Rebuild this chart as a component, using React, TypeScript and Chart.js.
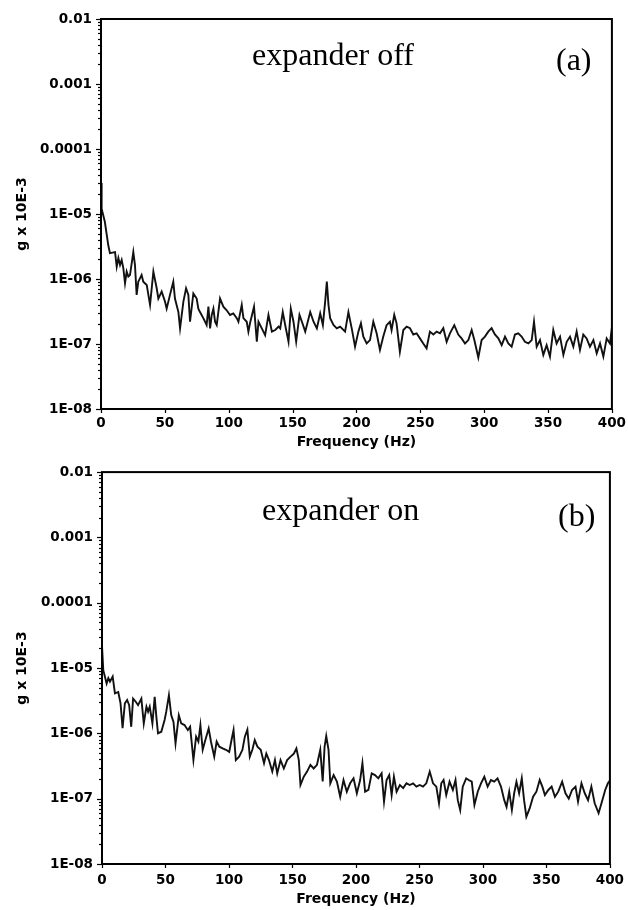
import React, { useEffect, useRef } from "react";
import { Chart, registerables } from "chart.js";
Chart.register(...registerables);

// ---- data ----
const xTickValues = [0, 50, 100, 150, 200, 250, 300, 350, 400];
const yDecades = [-8, -7, -6, -5, -4, -3, -2];
const yDecadeLabels = ["1E-08", "1E-07", "1E-06", "1E-05", "0.0001", "0.001", "0.01"];
const xTitle = "Frequency (Hz)";
const yTitle = "g x 10E-3";
const captionA = "expander off";
const captionB = "expander on";
const tagA = "(a)";
const tagB = "(b)";

// [frequency Hz, amplitude]
const seriesOff: [number, number][] = [
  [0, 3.0e-5], [0.5, 1.2e-5], [3, 7.6e-6], [5.7, 3.3e-6], [7, 2.5e-6], [11, 2.6e-6], [12.3, 1.55e-6],
  [13.6, 2.1e-6], [14.9, 1.64e-6], [16.2, 1.96e-6], [17.5, 1.46e-6], [18.8, 8.6e-7], [20.1, 1.3e-6],
  [21.4, 1.09e-6], [22.7, 1.15e-6], [25.3, 2.6e-6], [26.6, 1.64e-6], [27.9, 5.7e-7], [29.2, 9.1e-7],
  [31.8, 1.15e-6], [33.1, 9.1e-7], [35.8, 8.1e-7], [38.4, 4.0e-7], [41, 1.3e-6], [43.6, 7.2e-7],
  [44.9, 5.0e-7], [47.5, 6.4e-7], [50.1, 4.5e-7], [51.4, 3.5e-7], [54, 5.7e-7], [56.6, 9.1e-7],
  [57.9, 5.0e-7], [60.6, 3.1e-7], [61.9, 1.74e-7], [64.5, 4.5e-7], [66.6, 7.2e-7], [68.4, 5.7e-7],
  [69.7, 2.2e-7], [72.3, 6.0e-7], [74.9, 5.0e-7], [76.2, 3.5e-7], [77.5, 3.1e-7], [80.1, 2.5e-7],
  [82.7, 1.96e-7], [84.1, 3.75e-7], [85.4, 1.74e-7], [86.7, 2.8e-7], [88, 3.5e-7], [89.3, 2.2e-7],
  [90.6, 1.96e-7], [93.2, 5.0e-7], [95.8, 3.75e-7], [98.4, 3.3e-7], [101, 2.8e-7], [103.6, 2.96e-7],
  [106.3, 2.5e-7], [107.6, 2.2e-7], [110.2, 4.0e-7], [111.5, 2.5e-7], [114.1, 2.2e-7], [115.4, 1.55e-7],
  [116.7, 2.1e-7], [119.8, 3.75e-7], [122, 1.09e-7], [123.3, 2.2e-7], [125.9, 1.74e-7], [128.5, 1.37e-7],
  [131.1, 2.8e-7], [133.8, 1.55e-7], [136.4, 1.64e-7], [139, 1.85e-7], [140.3, 1.74e-7], [142.3, 3.1e-7],
  [144.2, 1.96e-7], [146.8, 1.09e-7], [148.6, 3.5e-7], [150.7, 2.2e-7], [152.8, 1.09e-7], [155.4, 2.8e-7],
  [157.3, 2.2e-7], [159.9, 1.55e-7], [163.8, 3.1e-7], [166.4, 2.2e-7], [169, 1.74e-7], [171.6, 2.96e-7],
  [173.7, 1.96e-7], [175.5, 4.5e-7], [176.8, 9.1e-7], [178.1, 4.0e-7], [179.4, 2.5e-7], [182, 1.96e-7],
  [184.6, 1.74e-7], [187.2, 1.85e-7], [191.1, 1.55e-7], [193.7, 3.1e-7], [196.3, 1.74e-7], [198.9, 9.1e-8],
  [201.5, 1.55e-7], [203.5, 2.08e-7], [205.4, 1.3e-7], [208, 1.02e-7], [210.6, 1.15e-7], [213.2, 2.2e-7],
  [215.8, 1.46e-7], [218.4, 8.1e-8], [221, 1.3e-7], [223.6, 1.95e-7], [226.2, 2.2e-7], [227.5, 1.64e-7],
  [229.6, 2.8e-7], [231.4, 2.08e-7], [234, 7.6e-8], [236.7, 1.64e-7], [239.3, 1.85e-7], [241.9, 1.75e-7],
  [244.5, 1.4e-7], [247.1, 1.46e-7], [249.7, 1.22e-7], [252.3, 1.02e-7], [254.9, 8.6e-8], [257.5, 1.55e-7],
  [260.2, 1.4e-7], [262.8, 1.55e-7], [265.4, 1.46e-7], [268, 1.75e-7], [270.6, 1.08e-7], [273.2, 1.46e-7],
  [276.6, 1.95e-7], [279.7, 1.4e-7], [282.3, 1.22e-7], [285, 1.02e-7], [287.6, 1.15e-7], [290.2, 1.64e-7],
  [292.3, 1.15e-7], [295.4, 6.2e-8], [298, 1.15e-7], [300.6, 1.3e-7], [303.2, 1.55e-7], [305.8, 1.75e-7],
  [308.4, 1.4e-7], [311.1, 1.22e-7], [313.7, 9.6e-8], [316.3, 1.3e-7], [318.9, 1.02e-7], [321.5, 9.1e-8],
  [324.1, 1.4e-7], [326.7, 1.46e-7], [329.3, 1.3e-7], [331.9, 1.08e-7], [334.6, 1.02e-7], [337.2, 1.15e-7],
  [339, 2.2e-7], [341.1, 9.1e-8], [343.7, 1.15e-7], [346.3, 6.8e-8], [348.9, 9.6e-8], [351.5, 6.4e-8],
  [354.1, 1.64e-7], [356.7, 1.02e-7], [359.4, 1.3e-7], [362, 6.8e-8], [364.6, 1.08e-7], [367.2, 1.3e-7],
  [369.8, 9.1e-8], [372.4, 1.55e-7], [375, 8.1e-8], [377.6, 1.4e-7], [380.2, 1.22e-7], [382.8, 9.1e-8],
  [385.5, 1.15e-7], [388.1, 7.2e-8], [390.7, 1.02e-7], [393.3, 6.4e-8], [395.9, 1.22e-7], [398.5, 1.02e-7],
  [400, 1.8e-7],
];

const seriesOn: [number, number][] = [
  [0, 2.2e-5], [1, 9.3e-6], [3.65, 5.8e-6], [5, 7e-6], [6.3, 6.2e-6], [8.4, 7.4e-6], [10.2, 4.1e-6],
  [12.8, 4.3e-6], [14.6, 2.88e-6], [16.2, 1.2e-6], [18, 2.88e-6], [19.8, 3.24e-6], [21.4, 2.7e-6],
  [23, 1.26e-6], [24.5, 3.4e-6], [26.6, 3.05e-6], [28.4, 2.7e-6], [31, 3.4e-6], [32.9, 1.42e-6],
  [35, 2.56e-6], [36.3, 2.15e-6], [37.6, 2.56e-6], [39.7, 1.42e-6], [41.5, 3.64e-6], [42.8, 1.8e-6],
  [44.1, 1.0e-6], [46.7, 1.06e-6], [49.3, 1.6e-6], [50.6, 2.15e-6], [52.7, 3.85e-6], [54.5, 1.9e-6],
  [56.3, 1.5e-6], [57.9, 7.0e-7], [60.5, 1.9e-6], [62.4, 1.42e-6], [65, 1.34e-6], [67.6, 1.12e-6],
  [69.4, 1.26e-6], [72, 3.9e-7], [74.1, 8.9e-7], [75.9, 7.5e-7], [77.5, 1.34e-6], [79.3, 5.6e-7],
  [81.4, 7.9e-7], [84, 1.19e-6], [85.8, 7.5e-7], [88.4, 4.4e-7], [90.3, 7.5e-7], [92.4, 6.25e-7],
  [95, 5.9e-7], [97.6, 5.6e-7], [100.2, 5.2e-7], [102, 7.9e-7], [103.6, 1.12e-6], [105.4, 3.9e-7],
  [108, 4.4e-7], [110.6, 5.6e-7], [112.5, 8.9e-7], [114.5, 1.14e-6], [116.4, 4.4e-7], [118.4, 5.6e-7],
  [120.3, 7.9e-7], [122.4, 6.25e-7], [125, 5.6e-7], [127.6, 3.5e-7], [129.4, 4.9e-7], [131.5, 3.9e-7],
  [134.1, 2.6e-7], [136.2, 3.9e-7], [138, 2.44e-7], [140.6, 3.9e-7], [143.2, 2.9e-7], [145.8, 3.9e-7],
  [148.5, 4.4e-7], [151.1, 4.9e-7], [153.1, 5.9e-7], [155, 3.9e-7], [156.3, 1.62e-7], [158.9, 2.17e-7],
  [161.5, 2.6e-7], [164.1, 3.3e-7], [166.7, 2.9e-7], [169.3, 3.3e-7], [171.9, 5.6e-7], [173.8, 1.83e-7],
  [175.3, 6.25e-7], [176.6, 9.1e-7], [178.4, 5.6e-7], [179.8, 1.72e-7], [182.4, 2.3e-7], [185, 1.83e-7],
  [187.6, 1.07e-7], [190.2, 1.93e-7], [192.8, 1.28e-7], [195.4, 1.72e-7], [198.1, 2.05e-7], [200.7, 1.21e-7],
  [203.3, 1.93e-7], [205.1, 3.5e-7], [207.2, 1.28e-7], [209.8, 1.36e-7], [212.4, 2.44e-7], [215, 2.3e-7],
  [217.6, 2.05e-7], [220.2, 2.44e-7], [222.1, 9e-8], [224.1, 1.93e-7], [226.2, 2.3e-7], [228.1, 1.14e-7],
  [229.9, 2.17e-7], [232, 1.28e-7], [234.6, 1.62e-7], [237.2, 1.45e-7], [239.8, 1.72e-7], [242.4, 1.62e-7],
  [245, 1.72e-7], [247.6, 1.53e-7], [250.2, 1.62e-7], [252.8, 1.53e-7], [255.4, 1.72e-7], [258.1, 2.6e-7],
  [260.7, 1.72e-7], [263.3, 1.53e-7], [265.4, 8.5e-8], [267.2, 1.72e-7], [269, 1.93e-7], [271.1, 1.14e-7],
  [273.7, 1.82e-7], [276.3, 1.36e-7], [278.4, 1.93e-7], [280.2, 9.5e-8], [282.1, 6.7e-8], [284.1, 1.53e-7],
  [286.8, 2.05e-7], [288.8, 1.93e-7], [291.2, 1.82e-7], [293.3, 8e-8], [295.9, 1.28e-7], [298.5, 1.72e-7],
  [301.1, 2.17e-7], [303.7, 1.53e-7], [306.3, 1.93e-7], [308.9, 1.82e-7], [311.5, 2.05e-7], [314.2, 1.53e-7],
  [316.8, 9.5e-8], [318.6, 7.5e-8], [320.7, 1.28e-7], [322.8, 6.7e-8], [324.6, 1.21e-7], [326.4, 1.82e-7],
  [328.5, 1.21e-7], [330.6, 2.05e-7], [332.4, 9.5e-8], [334.2, 5.3e-8], [336.8, 7.1e-8], [339.5, 1.07e-7],
  [342.1, 1.28e-7], [344.7, 1.93e-7], [346.8, 1.53e-7], [348.8, 1.14e-7], [351.5, 1.36e-7], [354.1, 1.53e-7],
  [356.7, 1.07e-7], [359.3, 1.28e-7], [362.4, 1.82e-7], [365, 1.21e-7], [367.6, 1e-7], [370.2, 1.36e-7],
  [372.9, 1.53e-7], [374.9, 9e-8], [377.6, 1.72e-7], [380.2, 1.21e-7], [382.8, 9.5e-8], [385.4, 1.53e-7],
  [388, 8.5e-8], [391.1, 6e-8], [393.7, 9e-8], [396.3, 1.36e-7], [398.4, 1.72e-7], [400, 1.9e-7],
];

// ---- styling ----
const SANS = '"DejaVu Sans", sans-serif';
const SERIF = '"Liberation Serif", "Times New Roman", serif';
const W = 628;
const H = 455;

type PanelProps = {
  series: [number, number][];
  caption: string;
  tag: string;
  area: { left: number; top: number; right: number; bottom: number };
  captionDx: number;
  captionDy: number;
  tagDx: number;
  tagDy: number;
  xLabelPad: number;
  xTitlePad: number;
};

function Panel(p: PanelProps) {
  const ref = useRef<HTMLCanvasElement | null>(null);
  useEffect(() => {
    if (!ref.current) return;
    const framePlugin = {
      id: "frame",
      afterDraw(chart: any) {
        const { ctx, chartArea: a } = chart;
        const ys = chart.scales.y;
        const xs = chart.scales.x;
        ctx.save();
        ctx.strokeStyle = "#000";
        ctx.lineWidth = 2;
        ctx.strokeRect(a.left, a.top, a.right - a.left, a.bottom - a.top);
        // y ticks (major + minor)
        ctx.lineWidth = 1.2;
        for (const d of yDecades) {
          for (let m = 1; m <= 9; m++) {
            const v = m * Math.pow(10, d);
            if (v > 1e-2 * 1.0001) continue;
            const y = Math.round(ys.getPixelForValue(v)) + 0.5;
            const len = m === 1 ? 5 : 3;
            ctx.beginPath();
            ctx.moveTo(a.left - len, y);
            ctx.lineTo(a.left, y);
            ctx.stroke();
          }
        }
        // x ticks
        for (const t of xTickValues) {
          const x = Math.round(xs.getPixelForValue(t)) + 0.5;
          ctx.beginPath();
          ctx.moveTo(x, a.bottom);
          ctx.lineTo(x, a.bottom + 4);
          ctx.stroke();
        }
        // captions
        ctx.fillStyle = "#000";
        ctx.font = `32px ${SERIF}`;
        ctx.textBaseline = "alphabetic";
        ctx.textAlign = "left";
        ctx.fillText(p.caption, a.left + p.captionDx, a.top + p.captionDy);
        ctx.fillText(p.tag, a.left + p.tagDx, a.top + p.tagDy);
        ctx.restore();
      },
    };

    const chart = new Chart(ref.current, {
      type: "line",
      data: {
        datasets: [
          {
            data: p.series.map(([x, y]) => ({ x, y })),
            borderColor: "#111",
            borderWidth: 1.9,
            pointRadius: 0,
            tension: 0,
            fill: false,
          },
        ],
      },
      options: {
        animation: false,
        responsive: false,
        maintainAspectRatio: false,
        layout: { padding: { left: 0, top: p.area.top, right: W - p.area.right, bottom: 0 } },
        plugins: { legend: { display: false }, tooltip: { enabled: false } },
        scales: {
          x: {
            type: "linear",
            min: 0,
            max: 400,
            afterBuildTicks: (s: any) => {
              s.ticks = xTickValues.map((v) => ({ value: v }));
            },
            ticks: {
              autoSkip: false,
              maxRotation: 0,
              color: "#000",
              padding: p.xLabelPad,
              font: { family: SANS, size: 13.5, weight: "bold" },
            },
            grid: { display: true, drawOnChartArea: false, drawTicks: true, tickLength: 4, tickColor: "rgba(0,0,0,0)" },
            border: { display: false },
            title: {
              display: true,
              text: xTitle,
              color: "#000",
              font: { family: SANS, size: 14, weight: "bold" },
              padding: { top: 0, bottom: p.xTitlePad },
            },
            afterFit: (s: any) => {
              s.height = H - p.area.bottom;
            },
          },
          y: {
            type: "logarithmic",
            min: 1e-8,
            max: 1e-2,
            afterBuildTicks: (s: any) => {
              s.ticks = yDecades.map((d) => ({ value: Math.pow(10, d) }));
            },
            ticks: {
              autoSkip: false,
              color: "#000",
              padding: 9,
              font: { family: SANS, size: 13.5, weight: "bold" },
              callback: (v: any) => {
                const e = Math.round(Math.log10(Number(v)));
                const i = yDecades.indexOf(e);
                return i >= 0 ? yDecadeLabels[i] : "";
              },
            },
            grid: { display: false, drawTicks: false },
            border: { display: false },
            title: {
              display: true,
              text: yTitle,
              color: "#000",
              font: { family: SANS, size: 14, weight: "bold" },
              padding: { top: 14, bottom: 0 },
            },
            afterFit: (s: any) => {
              s.width = p.area.left;
            },
          },
        },
      },
      plugins: [framePlugin],
    } as any);
    return () => chart.destroy();
  }, []);
  return <canvas ref={ref} width={W} height={H} style={{ width: W, height: H, display: "block" }} />;
}

export default function App() {
  return (
    <div style={{ position: "absolute", left: 0, top: 0, width: W, height: 910, background: "#fff" }}>
      <Panel
        series={seriesOff}
        caption={captionA}
        tag={tagA}
        area={{ left: 101, top: 19, right: 612, bottom: 409 }}
        captionDx={151}
        captionDy={46}
        tagDx={455}
        tagDy={51}
        xLabelPad={2}
        xTitlePad={4}
      />
      <Panel
        series={seriesOn}
        caption={captionB}
        tag={tagB}
        area={{ left: 102, top: 17, right: 613, bottom: 409 }}
        captionDx={160}
        captionDy={48}
        tagDx={456}
        tagDy={54}
        xLabelPad={4}
        xTitlePad={2}
      />
    </div>
  );
}
